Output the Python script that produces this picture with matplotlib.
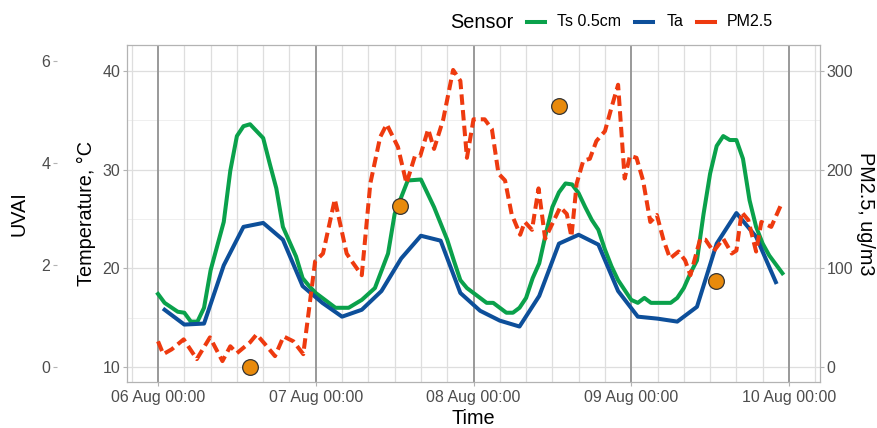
import matplotlib
matplotlib.use("Agg")
import matplotlib.pyplot as plt
import matplotlib.dates as mdates
from matplotlib.lines import Line2D
import pandas as pd

plt.rcParams['font.family'] = ['Liberation Sans', 'DejaVu Sans']

# ---------------- data ----------------
start = pd.Timestamp('2020-08-06 00:00')

ts_hours = [0, 1, 3, 4, 5, 6, 7, 8, 10, 11, 12, 13, 14, 16, 17, 18, 19, 21, 22, 23,
            24, 27, 29, 31, 33, 35, 36, 38, 40, 42, 44, 45, 46, 47, 49, 50, 51, 53,
            54, 55, 56, 57, 58, 59, 60, 61, 62, 63, 64, 65, 66, 67, 68, 69, 70, 71,
            72, 73, 74, 75, 78, 79, 80, 81, 82, 83, 84, 85, 86, 87, 88, 89, 90, 91,
            92, 93, 95]
ts_values = [17.4, 16.5, 15.6, 15.5, 14.6, 14.6, 16.0, 19.8, 24.7, 29.9, 33.4, 34.4,
             34.6, 33.2, 30.6, 28.1, 24.2, 21.2, 19.0, 18.2, 17.5, 16.0, 16.0, 16.8,
             18.0, 21.5, 25.5, 28.9, 29.0, 26.2, 22.9, 20.8, 18.8, 18.0, 17.0, 16.5,
             16.5, 15.5, 15.5, 16.0, 17.0, 19.0, 20.5, 23.5, 26.2, 27.7, 28.6, 28.5,
             27.6, 26.2, 24.9, 23.9, 21.9, 20.2, 18.8, 17.8, 16.8, 16.5, 17.0, 16.5,
             16.5, 17.0, 18.0, 19.5, 20.8, 25.5, 29.6, 32.4, 33.4, 33.0, 33.0, 31.1,
             26.9, 24.2, 22.5, 21.3, 19.5]

ta_hours = [1, 4, 7, 10, 13, 16, 19, 22, 25, 28, 31, 34, 37, 40, 43, 46, 49, 52, 55,
            58, 61, 64, 67, 70, 73, 76, 79, 82, 85, 88, 91, 94]
ta_values = [15.8, 14.3, 14.4, 20.3, 24.2, 24.6, 22.9, 18.2, 16.5, 15.1, 15.8, 17.7,
             21.0, 23.3, 22.8, 17.5, 15.7, 14.7, 14.1, 17.2, 22.5, 23.4, 22.4, 17.7,
             15.1, 14.9, 14.6, 16.1, 22.5, 25.6, 23.2, 18.6]

pm_hours = [0, 0.8, 2.1, 3.9, 5.9, 7.9, 9.8, 11, 12, 14, 15, 16.3, 17.8, 19.1, 20.6,
            22.1, 23.1, 23.9, 25.1, 26.9, 28.7, 29.5, 31, 32.3, 33.8, 34.8, 36.5,
            37.8, 39.1, 39.9, 41.1, 42, 43.4, 44.9, 46, 47, 48, 49.7, 50.8, 51.8,
            52.8, 53.8, 55.1, 55.8, 56.9, 57.9, 58.9, 61.2, 62.2, 62.9, 63.7, 64.7,
            65.7, 66.7, 68, 69, 70, 71, 71.8, 72.8, 73.8, 74.9, 75.9, 76.9, 77.9,
            79.2, 80.2, 81, 82.5, 83.3, 84.5, 86, 87.3, 88, 88.8, 89.8, 91, 91.8,
            93.3, 94.9]
pm_values = [26, 13, 18, 28, 8, 30, 6, 21, 14, 25, 33, 23, 11, 31, 26, 13, 65, 107,
             115, 170, 115, 107, 93, 186, 233, 246, 223, 186, 214, 214, 241, 221, 251,
             301, 290, 212, 251, 251, 241, 196, 189, 155, 134, 147, 139, 181, 130, 162,
             155, 132, 186, 209, 211, 229, 239, 263, 286, 191, 214, 212, 189, 147, 154,
             129, 110, 117, 108, 93, 130, 129, 117, 130, 115, 118, 157, 149, 117, 147,
             142, 166]

uvai_hours = [14.0, 36.8, 61.0, 84.9]
uvai_values = [0.0, 3.16, 5.11, 1.69]

day_ticks = [0, 24, 48, 72, 96]

def to_time(hours):
    return [start + pd.Timedelta(hours=h) for h in hours]

# ---------------- style ----------------
c_ts = '#0aa14b'
c_ta = '#0d4f9a'
c_pm = '#ee3a0f'
c_uv = '#e88a0c'
tick_col = '#4d4d4d'
frame_col = '#b3b3b3'
tick_fs = 11.5

fig = plt.figure(figsize=(8.77, 4.28), dpi=100)
W, H = 877, 428
left, right, top, bottom = 127, 820, 45, 381.7
ax = fig.add_axes([left / W, 1 - bottom / H, (right - left) / W, (bottom - top) / H])

ax.set_xlim(start + pd.Timedelta(hours=-4.72), start + pd.Timedelta(hours=100.72))
ax.set_ylim(8.51, 42.63)

# grid
ax.set_yticks([10, 20, 30, 40])
ax.set_yticks([15, 25, 35], minor=True)
ax.grid(False)
for y in [10, 20, 30, 40]:
    ax.axhline(y, color='#dedede', lw=0.9, zorder=0)
for y in [15, 25, 35]:
    ax.axhline(y, color='#ececec', lw=0.6, zorder=0)
for h in range(-4, 101, 4):
    if h % 24 != 0:
        ax.axvline(start + pd.Timedelta(hours=h), color='#dedede', lw=0.9, zorder=0)
for h in day_ticks:
    ax.axvline(start + pd.Timedelta(hours=h), color='#999999', lw=1.4, zorder=1)

ax.set_xticks(to_time(day_ticks))
ax.xaxis.set_major_formatter(mdates.DateFormatter('%d %b %H:%M'))

for s in ax.spines.values():
    s.set_color(frame_col)
    s.set_linewidth(0.9)

ax.tick_params(axis='both', which='major', color=frame_col, length=2.8, width=0.8,
               labelsize=tick_fs, labelcolor=tick_col, pad=2)
ax.tick_params(axis='x', which='major', pad=3.5)
ax.tick_params(axis='y', which='minor', length=0)

ax.plot(to_time(ts_hours), ts_values, color=c_ts, lw=2.9, zorder=3,
        solid_joinstyle='round')
ax.plot(to_time(ta_hours), ta_values, color=c_ta, lw=2.9, zorder=3,
        solid_joinstyle='round')

# PM2.5 secondary axis: PM = (T - 10) * 10
axp = ax.twinx()
axp.set_ylim((8.51 - 10) * 10, (42.63 - 10) * 10)
axp.set_yticks([0, 100, 200, 300])
axp.plot(to_time(pm_hours), pm_values, color=c_pm, lw=2.9, ls=(0, (2.6, 1.3)),
         zorder=3)
for s in axp.spines.values():
    s.set_visible(False)
axp.tick_params(axis='y', color=frame_col, length=2.8, width=0.8, labelsize=tick_fs,
                labelcolor=tick_col, pad=2)

# UVAI axis (offset on left)
axu = ax.twinx()
axu.set_ylim(-0.282, 6.307)
axu.set_yticks([0, 2, 4, 6])
axu.yaxis.set_ticks_position('left')
axu.yaxis.set_label_position('left')
for s in axu.spines.values():
    s.set_visible(False)
axu.spines['left'].set_position(('outward', 70 * 72 / 100))
axu.tick_params(axis='y', color=frame_col, length=2.8, width=0.8, labelsize=tick_fs,
                labelcolor=tick_col, pad=2)
axu.plot(to_time(uvai_hours), uvai_values, ls='none', marker='o', ms=11.3,
         mfc=c_uv, mec='#333333', mew=0.9, zorder=5)
axu.patch.set_visible(False)
axp.patch.set_visible(False)

# axis titles
fig.text(19 / W, 1 - 214 / H, 'UVAI', rotation=90, ha='center', va='center',
         fontsize=14.3, color='black')
fig.text(86 / W, 1 - 214 / H, 'Temperature, °C', rotation=90, ha='center',
         va='center', fontsize=14.3, color='black')
fig.text(865 / W, 1 - 214 / H, 'PM2.5, ug/m3', rotation=270, ha='center',
         va='center', fontsize=14.3, color='black')
fig.text(((158 + 789) / 2) / W, 1 - 419 / H, 'Time', ha='center', va='center',
         fontsize=14.3, color='black')

# legend
ly = 1 - 22 / H
fig.text(450 / W, ly, 'Sensor', ha='left', va='center', fontsize=14.3)
for (x0, x1, tx, lab, col) in [(527, 545, 557, 'Ts 0.5cm', c_ts),
                               (635, 653, 667, 'Ta', c_ta),
                               (697, 715, 727, 'PM2.5', c_pm)]:
    fig.add_artist(Line2D([x0 / W, x1 / W], [ly, ly], color=col, lw=2.9,
                          transform=fig.transFigure))
    fig.text(tx / W, ly, lab, ha='left', va='center', fontsize=11.5)

fig.savefig('out.png', dpi=100)
